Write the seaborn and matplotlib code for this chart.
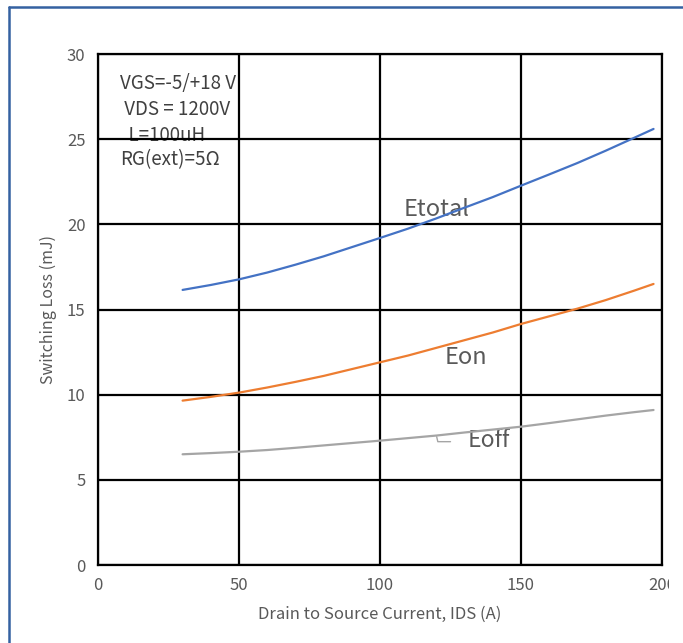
import matplotlib
matplotlib.use("Agg")
import matplotlib.pyplot as plt
from matplotlib import font_manager
from matplotlib.patches import Rectangle
from matplotlib.lines import Line2D
import seaborn as sns
import pandas as pd

# Switching loss vs drain current
ids_a = [30, 40, 50, 60, 70, 80, 90, 100, 110, 120, 130, 140, 150, 160, 170, 180, 190, 197]
e_on = [9.65, 9.87, 10.12, 10.42, 10.75, 11.1, 11.5, 11.9, 12.3, 12.75, 13.2, 13.65,
        14.15, 14.6, 15.05, 15.55, 16.1, 16.5]
e_off = [6.5, 6.57, 6.65, 6.75, 6.88, 7.02, 7.16, 7.3, 7.45, 7.6, 7.78, 7.95,
         8.12, 8.33, 8.55, 8.77, 8.97, 9.1]
e_total = [round(a + b, 2) for a, b in zip(e_on, e_off)]

series_names = ["Etotal", "Eon", "Eoff"]
series_colors = ["#4472C4", "#ED7D31", "#A5A5A5"]

x_ticks = [0, 50, 100, 150, 200]
y_ticks = [0, 5, 10, 15, 20, 25, 30]

conditions = ["VGS=-5/+18 V", " VDS = 1200V", "  L=100uH", "RG(ext)=5Ω"]

df = pd.DataFrame({
    "IDS": ids_a * 3,
    "E": e_total + e_on + e_off,
    "curve": sum([[n] * len(ids_a) for n in series_names], []),
})

sns.set_theme(style="white")
plt.rcParams["font.family"] = ["Noto Sans CJK SC", "DejaVu Sans"]

installed = {f.name for f in font_manager.fontManager.ttflist}
narrow = "Liberation Sans Narrow" if "Liberation Sans Narrow" in installed else "Noto Sans CJK SC"

fig = plt.figure(figsize=(6.83, 6.43), dpi=100)
ax = fig.add_axes([98 / 683, 1 - 565 / 643, 564 / 683, 511 / 643])

sns.lineplot(data=df, x="IDS", y="E", hue="curve", palette=dict(zip(series_names, series_colors)),
             linewidth=1.6, ax=ax, legend=False, zorder=3)

ax.set_xlim(0, 200)
ax.set_ylim(0, 30)
ax.set_xticks(x_ticks)
ax.set_yticks(y_ticks)
ax.set_axisbelow(False)
ax.grid(True, color="black", linewidth=1.6)
for s in ax.spines.values():
    s.set_color("black")
    s.set_linewidth(1.6)
ax.tick_params(length=0, labelsize=12, labelcolor="#595959", pad=9)
ax.set_xlabel("Drain to Source Current, IDS (A)", fontsize=12, color="#595959", labelpad=8)
ax.set_ylabel("Switching Loss (mJ)", fontsize=11.5, color="#595959", labelpad=7)

# Test conditions
cond_y = [28.24, 26.72, 25.19, 23.78]
for txt, yy in zip(conditions, cond_y):
    ax.text(7.8, yy, txt, fontsize=13.5, color="#404040", va="center", ha="left", zorder=1)

# Curve labels
ax.text(108.5, 20.9, "Etotal", fontsize=17, color="#595959", va="center", ha="left",
        family=[narrow, "DejaVu Sans"], fontweight="light", zorder=1)
ax.text(123, 12.2, "Eon", fontsize=17, color="#595959", va="center", ha="left",
        family=[narrow, "DejaVu Sans"], fontweight="light", zorder=1)
ax.text(131.2, 7.28, "Eoff", fontsize=16.5, color="#595959", va="center", ha="left",
        family=[narrow, "DejaVu Sans"], fontweight="light", zorder=1)
ax.add_line(Line2D([120.1, 120.5, 125], [7.53, 7.24, 7.24], color="#A5A5A5", linewidth=1.0, zorder=3))

# Cover beyond the right edge of the frame
fig.add_artist(Rectangle((669 / 683, 0), 14 / 683, 1 - 10 / 643, transform=fig.transFigure,
                         facecolor="white", edgecolor="none", zorder=10))

# Outer frame (top and left edges)
fig.add_artist(Line2D([9 / 683, 1], [1 - 7 / 643, 1 - 7 / 643], transform=fig.transFigure,
                      color="#3461A1", linewidth=1.8, zorder=11))
fig.add_artist(Line2D([9 / 683, 9 / 683], [0, 1 - 7 / 643], transform=fig.transFigure,
                      color="#3461A1", linewidth=1.8, zorder=11))

fig.savefig("out.png", dpi=100, facecolor="white")
